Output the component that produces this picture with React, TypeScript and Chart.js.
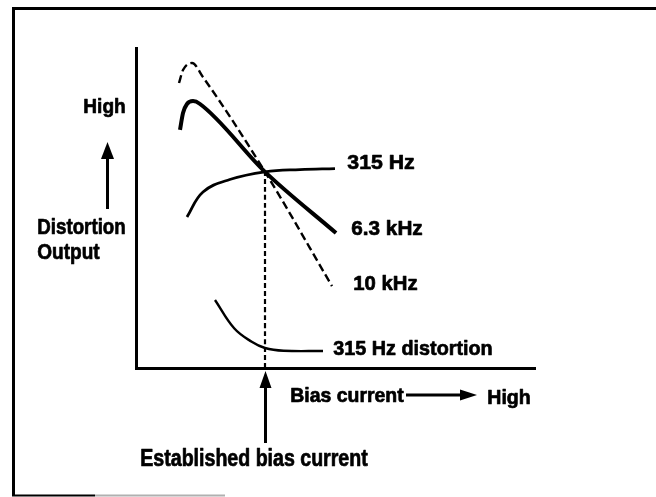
import React, { useEffect, useRef } from "react";
import { Chart, registerables } from "chart.js";

Chart.register(...registerables);

// Bias current (x, 0..100) vs distortion/output (y, 0..100)
const crossX = 32.33;
const crossY = 61.3;

const khz10X = [10.78, 11.78, 14.04, 16.79, crossX, 49.12];
const khz10Y = [89.06, 93.1, 95.3, 90.9, crossY, 25.6];

const khz63X = [11.03, 11.78, 12.78, 14.29, 16.04, crossX, 50.13];
const khz63Y = [74.4, 79.7, 82.5, 83.4, 82.5, crossY, 42.19];

const hz315X = [12.78, 16.79, 23.5, crossX, 41.1, 49.87];
const hz315Y = [47.19, 55.0, 58.9, crossY, 62.0, 62.3];

const distX = [19.8, 24.6, 29.0, crossX, 37.0, 46.87];
const distY = [21.25, 12.4, 8.2, 6.25, 5.4, 5.31];

const biasX = [crossX, crossX];
const biasY = [0, crossY];

const pts = (xs: number[], ys: number[]) => xs.map((x, i) => ({ x, y: ys[i] }));

const FONT = '"Liberation Sans", Arial, Helvetica, sans-serif';

function fitText(ctx: CanvasRenderingContext2D, text: string, left: number, right: number, baseline: number, size: number) {
  ctx.save();
  ctx.font = `bold ${size}px ${FONT}`;
  ctx.textBaseline = "alphabetic";
  ctx.textAlign = "left";
  const w = ctx.measureText(text).width;
  const sx = (right - left - 0.6) / w;
  ctx.translate(left + 0.3, baseline);
  ctx.scale(sx, 1);
  ctx.fillStyle = "#000";
  ctx.strokeStyle = "#000";
  ctx.lineWidth = 0.7;
  ctx.lineJoin = "round";
  ctx.fillText(text, 0, 0);
  ctx.strokeText(text, 0, 0);
  ctx.restore();
}

function arrowUp(ctx: CanvasRenderingContext2D, x: number, tipY: number, bottomY: number, headW: number, headH: number) {
  ctx.save();
  ctx.strokeStyle = "#000";
  ctx.fillStyle = "#000";
  ctx.lineWidth = 3;
  ctx.beginPath();
  ctx.moveTo(x, bottomY);
  ctx.lineTo(x, tipY + headH - 2);
  ctx.stroke();
  ctx.beginPath();
  ctx.moveTo(x, tipY);
  ctx.lineTo(x - headW / 2, tipY + headH);
  ctx.lineTo(x + headW / 2, tipY + headH);
  ctx.closePath();
  ctx.fill();
  ctx.restore();
}

function arrowRight(ctx: CanvasRenderingContext2D, y: number, startX: number, tipX: number, headW: number, headH: number) {
  ctx.save();
  ctx.strokeStyle = "#000";
  ctx.fillStyle = "#000";
  ctx.lineWidth = 3;
  ctx.beginPath();
  ctx.moveTo(startX, y);
  ctx.lineTo(tipX - headH + 2, y);
  ctx.stroke();
  ctx.beginPath();
  ctx.moveTo(tipX, y);
  ctx.lineTo(tipX - headH, y - headW / 2);
  ctx.lineTo(tipX - headH, y + headW / 2);
  ctx.closePath();
  ctx.fill();
  ctx.restore();
}

const decorPlugin = {
  id: "decor",
  beforeDraw(chart: any) {
    const ctx = chart.ctx as CanvasRenderingContext2D;
    ctx.save();
    ctx.fillStyle = "#fff";
    ctx.fillRect(0, 0, chart.width, chart.height);
    // frame
    ctx.strokeStyle = "#000";
    ctx.lineWidth = 3;
    ctx.beginPath();
    ctx.moveTo(13.5, 496);
    ctx.lineTo(13.5, 8.5);
    ctx.lineTo(656, 8.5);
    ctx.stroke();
    ctx.lineWidth = 2;
    ctx.beginPath();
    ctx.moveTo(12, 495.5);
    ctx.lineTo(95, 495.5);
    ctx.stroke();
    ctx.strokeStyle = "#b0b0b0";
    ctx.beginPath();
    ctx.moveTo(95, 495.5);
    ctx.lineTo(225, 495.5);
    ctx.stroke();
    ctx.restore();
  },
  afterDraw(chart: any) {
    const ctx = chart.ctx as CanvasRenderingContext2D;
    fitText(ctx, "High", 83, 126, 113, 21);
    fitText(ctx, "Distortion", 37, 126, 234, 22);
    fitText(ctx, "Output", 37, 100, 259, 22);
    fitText(ctx, "315 Hz", 347, 415, 169, 21);
    fitText(ctx, "6.3 kHz", 351, 423, 235, 21);
    fitText(ctx, "10 kHz", 353, 418, 290, 21);
    fitText(ctx, "315 Hz distortion", 333, 493, 355, 21);
    fitText(ctx, "Bias current", 290, 404, 402, 21);
    fitText(ctx, "High", 487, 531, 404, 21);
    fitText(ctx, "Established bias current", 140, 368, 466, 23);
    arrowUp(ctx, 107.5, 142, 209, 13, 17);
    const xs = chart.scales.x;
    arrowUp(ctx, Math.round(xs.getPixelForValue(crossX)) + 0.5, 371, 443, 12, 17);
    arrowRight(ctx, 395, 406, 477, 11, 17);
  },
};

export default function App() {
  const ref = useRef<HTMLCanvasElement | null>(null);
  useEffect(() => {
    document.body.style.margin = "0";
    const canvas = ref.current!;
    const mono = { pointRadius: 0, fill: false, cubicInterpolationMode: "monotone" as const, borderColor: "#000", showLine: true };
    const smooth = { pointRadius: 0, fill: false, tension: 0.4, borderColor: "#000", showLine: true };
    const chart = new Chart(canvas, {
      type: "scatter",
      data: {
        datasets: [
          { label: "10 kHz", data: pts(khz10X, khz10Y), borderWidth: 2.4, borderDash: [8, 4], ...mono },
          { label: "6.3 kHz", data: pts(khz63X, khz63Y), borderWidth: 4, ...mono },
          { label: "315 Hz", data: pts(hz315X, hz315Y), borderWidth: 2.8, ...smooth },
          { label: "315 Hz distortion", data: pts(distX, distY), borderWidth: 2.4, ...smooth },
          { label: "Established bias current", data: pts(biasX, biasY), borderWidth: 2.2, borderDash: [5, 3], ...mono },
        ],
      },
      options: {
        responsive: false,
        animation: false,
        events: [],
        layout: { padding: { left: 136, right: 121, top: 48, bottom: 129 } },
        plugins: { legend: { display: false }, tooltip: { enabled: false } },
        scales: {
          x: {
            type: "linear",
            min: 0,
            max: 100,
            ticks: { display: false },
            grid: { display: false, drawTicks: false },
            border: { display: true, color: "#000", width: 3 },
          },
          y: {
            type: "linear",
            min: 0,
            max: 100,
            ticks: { display: false },
            grid: { display: false, drawTicks: false },
            border: { display: true, color: "#000", width: 3 },
          },
        },
      },
      plugins: [decorPlugin],
    });
    return () => chart.destroy();
  }, []);
  return (
    <div style={{ width: 656, height: 497 }}>
      <canvas ref={ref} width={656} height={497} style={{ display: "block" }} />
    </div>
  );
}
